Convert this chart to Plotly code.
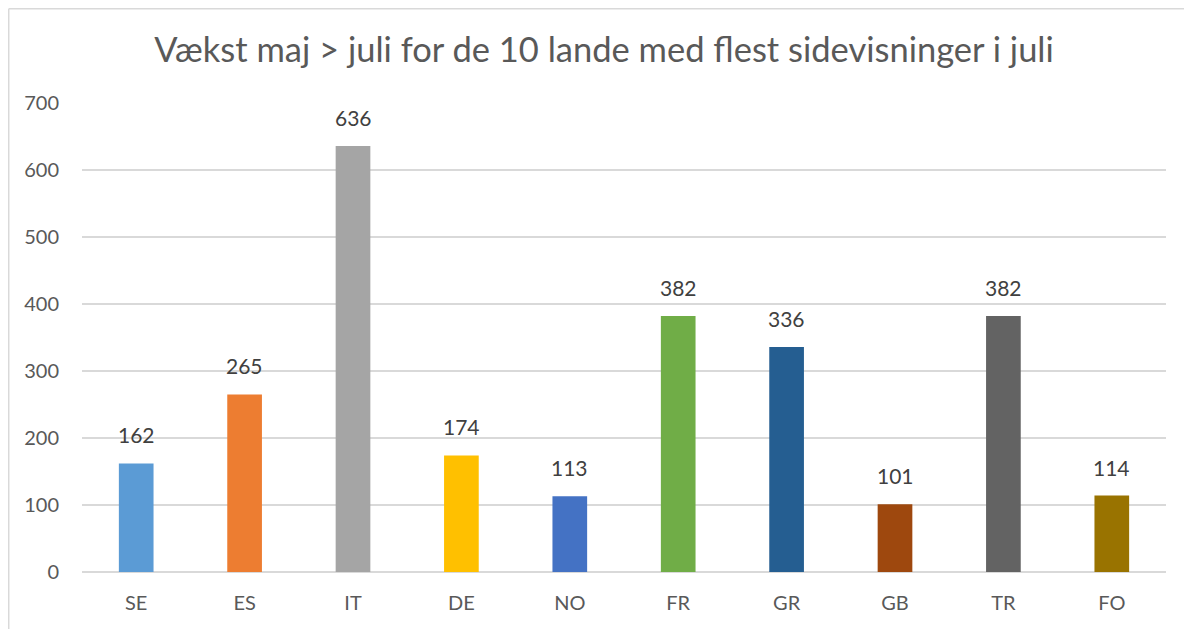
import plotly.graph_objects as go

categories = ["SE", "ES", "IT", "DE", "NO", "FR", "GR", "GB", "TR", "FO"]
values = [162, 265, 636, 174, 113, 382, 336, 101, 382, 114]
colors = ["#5B9BD5", "#ED7D31", "#A5A5A5", "#FFC000", "#4472C4",
          "#70AD47", "#255E91", "#9E480E", "#636363", "#997300"]
y_ticks = [0, 100, 200, 300, 400, 500, 600, 700]
title = "Vækst maj > juli for de 10 lande med flest sidevisninger i juli"

FONT = "Lato, 'Open Sans', sans-serif"

fig = go.Figure(go.Bar(
    x=categories, y=values, marker_color=colors, marker_line_width=0,
    hoverinfo="x+y",
))

annotations = [
    dict(x=c, y=v, xref="x", yref="y", text=str(v), showarrow=False,
         yanchor="bottom", xanchor="center", yshift=14,
         font=dict(size=21, color="#404040", family=FONT))
    for c, v in zip(categories, values)
]

fig.update_layout(
    width=1192, height=629,
    margin=dict(l=74, r=34, t=95, b=65),
    paper_bgcolor="white", plot_bgcolor="white",
    bargap=0.68,
    showlegend=False,
    font=dict(family=FONT, color="#595959"),
    title=dict(text=title, x=0.5, xanchor="center", y=0.933, yanchor="middle",
               font=dict(size=34.5, color="#595959", family=FONT)),
    xaxis=dict(showgrid=False, showline=False, ticks="",
               tickfont=dict(size=20, color="#595959"), ticklabelstandoff=17),
    yaxis=dict(range=[0, 700], tickvals=y_ticks, showgrid=True,
               gridcolor="#D9D9D9", gridwidth=1.5, zeroline=True,
               zerolinecolor="#D9D9D9", zerolinewidth=1.5,
               tickfont=dict(size=20, color="#595959"), ticklabelstandoff=22),
    annotations=annotations,
    shapes=[dict(type="line", xref="paper", yref="paper",
                 x0=-0.0676, x1=-0.0676, y0=-0.3, y1=1.201,
                 line=dict(color="#D9D9D9", width=1.5), layer="above"),
            dict(type="line", xref="paper", yref="paper",
                 x0=-0.0676, x1=1.2, y0=1.201, y1=1.201,
                 line=dict(color="#D9D9D9", width=1.5), layer="above")],
)

fig.write_html("out.html")
